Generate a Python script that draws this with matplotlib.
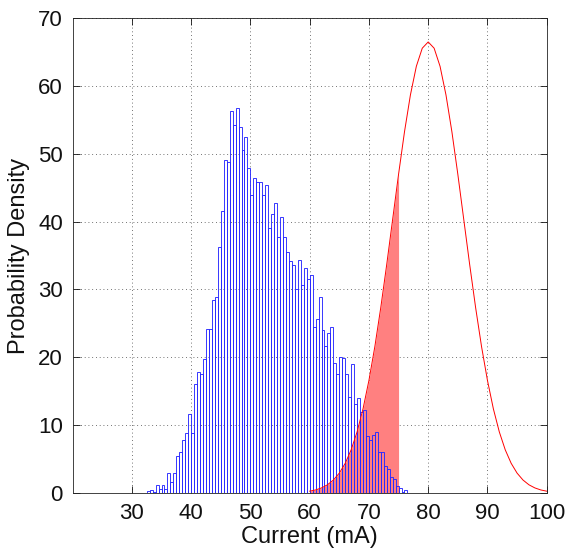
import matplotlib.pyplot as plt
import numpy as np

plt.rcParams['font.family'] = ['Liberation Sans', 'DejaVu Sans']

# histogram of measured current, 0.5 mA bins starting at 32.5 mA
bin_start = 32.5
bin_width = 0.5
density = [
    0.25, 0.5, 0.15, 1.1, 0.6, 1.1, 0.65, 2.9, 1.6, 3.0,
    5.4, 6.0, 7.8, 8.9, 11.6, 8.9, 16.1, 17.8, 17.5, 19.8,
    24.2, 24.2, 28.4, 28.9, 36.2, 41.5, 49.1, 48.8, 56.3, 54.3,
    56.7, 53.9, 50.5, 52.5, 47.9, 44.0, 46.5, 45.8, 45.8, 43.9,
    45.4, 39.0, 41.2, 42.8, 37.7, 40.7, 37.7, 35.5, 34.2, 33.6,
    30.0, 34.4, 30.6, 33.1, 31.5, 32.1, 24.5, 25.6, 28.9, 24.0,
    21.6, 23.6, 24.4, 19.2, 17.5, 20.0, 19.9, 17.5, 14.2, 19.0,
    13.1, 14.0, 12.0, 12.2, 8.4, 7.8, 8.5, 9.0, 6.0, 6.0,
    4.0, 3.5, 2.3, 2.0, 1.0, 0.8, 0.2, 0.5,
]

# threshold distribution
curve_x = list(range(60, 101))
curve_y = [
    0.26, 0.44, 0.74, 1.20, 1.90, 2.92, 4.37, 6.36, 9.00, 12.39,
    16.59, 21.59, 27.34, 33.67, 40.33, 46.99, 53.25, 58.69, 62.91, 65.58,
    66.50, 65.58, 62.91, 58.69, 53.25, 46.99, 40.33, 33.67, 27.34, 21.59,
    16.59, 12.39, 9.00, 6.36, 4.37, 2.92, 1.90, 1.20, 0.74, 0.44,
    0.26,
]
overlap_end = 75

fig = plt.figure(figsize=(5.81, 5.52), dpi=100)
ax = fig.add_axes([0.125, 0.107, 0.816, 0.860])

cx = np.array(curve_x)
cy = np.array(curve_y)
m = cx <= overlap_end
ax.fill_between(cx[m], cy[m], color='#ff8080', linewidth=0, zorder=2)

edges = bin_start + bin_width * np.arange(len(density))
ax.bar(edges, density, width=bin_width, align='edge', fill=False,
       edgecolor='#2a2aff', linewidth=0.65, zorder=3)

ax.plot(cx, cy, color='red', linewidth=0.7, zorder=4)

ax.set_xlim(20, 100)
ax.set_ylim(0, 70)
ax.set_xticks(range(30, 101, 10))
ax.set_yticks(range(0, 71, 10))
ax.tick_params(direction='in', top=True, right=True, length=5,
               labelsize=16, pad=7, width=0.6, colors='#111111')
ax.grid(True, linestyle=(0, (1, 3.5)), color='#444444', linewidth=0.6)
ax.set_axisbelow(True)
for s in ax.spines.values():
    s.set_linewidth(0.6)
    s.set_color('#222222')

ax.set_xlabel('Current (mA)', fontsize=17, labelpad=2, color='#111111')
ax.set_ylabel('Probability Density', fontsize=17, labelpad=6, color='#111111')

fig.savefig('out.png', dpi=100)
